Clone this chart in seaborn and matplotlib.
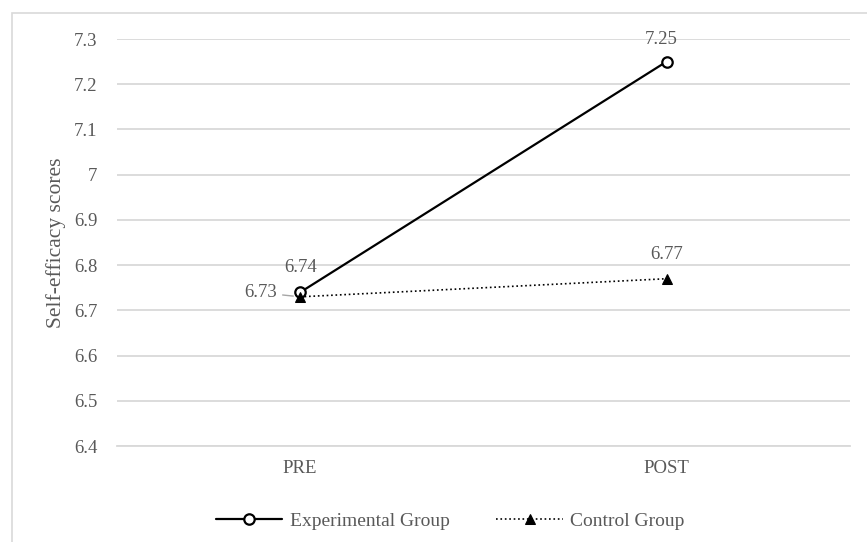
import numpy as np
import pandas as pd
import matplotlib.pyplot as plt
import seaborn as sns
from matplotlib.patches import Rectangle

# data
times = ['PRE', 'POST']
experimental = [6.74, 7.25]
control = [6.73, 6.77]

df = pd.DataFrame({'time': times * 2,
                   'score': experimental + control,
                   'group': ['Experimental Group'] * 2 + ['Control Group'] * 2})

sns.set_theme(style='white')
plt.rcParams['font.family'] = ['Liberation Serif', 'DejaVu Serif']
grey = '#595959'

fig = plt.figure(figsize=(8.67, 5.42), dpi=100)
ax = fig.add_axes([0.135, 0.177, 0.845, 0.751])

exp = df[df.group == 'Experimental Group']
ctl = df[df.group == 'Control Group']
sns.lineplot(data=exp, x='time', y='score', ax=ax, color='black', lw=1.6,
             marker='o', markersize=7.5, markerfacecolor='white', markeredgecolor='black',
             markeredgewidth=1.6, label='Experimental Group', sort=False)
sns.lineplot(data=ctl, x='time', y='score', ax=ax, color='black', lw=1.2,
             linestyle=':', marker='^', markersize=7, markerfacecolor='black',
             markeredgecolor='black', label='Control Group', sort=False)

ax.set_xlim(-0.5, 1.5)
ax.set_ylim(6.4, 7.3)
ax.set_yticks(np.arange(6.4, 7.31, 0.1))
ax.set_yticklabels(['6.4', '6.5', '6.6', '6.7', '6.8', '6.9', '7', '7.1', '7.2', '7.3'])
ax.yaxis.grid(True, color='#d9d9d9', lw=1.3)
ax.set_axisbelow(True)
for s in ['top', 'right', 'left']:
    ax.spines[s].set_visible(False)
ax.spines['bottom'].set_color('#d9d9d9')
ax.spines['bottom'].set_linewidth(1.3)
ax.tick_params(axis='both', length=0, labelsize=13.5, colors=grey, pad=14)
ax.tick_params(axis='x', pad=10)
ax.set_xlabel('')
ax.set_ylabel('Self-efficacy scores', fontsize=15.5, color=grey, labelpad=6)

# data labels
fs = 13.5
ax.annotate('6.74', (0, experimental[0]), xytext=(0, 12), textcoords='offset points',
            ha='center', va='bottom', fontsize=fs, color=grey)
ax.annotate('7.25', (1, experimental[1]), xytext=(-4, 10), textcoords='offset points',
            ha='center', va='bottom', fontsize=fs, color=grey)
ax.annotate('6.77', (1, control[1]), xytext=(0, 11), textcoords='offset points',
            ha='center', va='bottom', fontsize=fs, color=grey)
ax.annotate('6.73', (0, control[0]), xytext=(-17, 3), textcoords='offset points',
            ha='right', va='center', fontsize=fs, color=grey,
            arrowprops=dict(arrowstyle='-', color='#a6a6a6', lw=1, shrinkA=2, shrinkB=5))

leg = ax.legend(loc='upper center', bbox_to_anchor=(0.455, -0.12), ncol=2, frameon=False,
                fontsize=14, handlelength=3.4, columnspacing=2.4, handletextpad=0.4)
for t in leg.get_texts():
    t.set_color(grey)

fig.patches.append(Rectangle((12 / 867, -0.1), 1.2, 1 - 13 / 542 + 0.1,
                             transform=fig.transFigure, fill=False,
                             edgecolor='#d9d9d9', lw=1.2))

plt.savefig('out.png', dpi=100)
